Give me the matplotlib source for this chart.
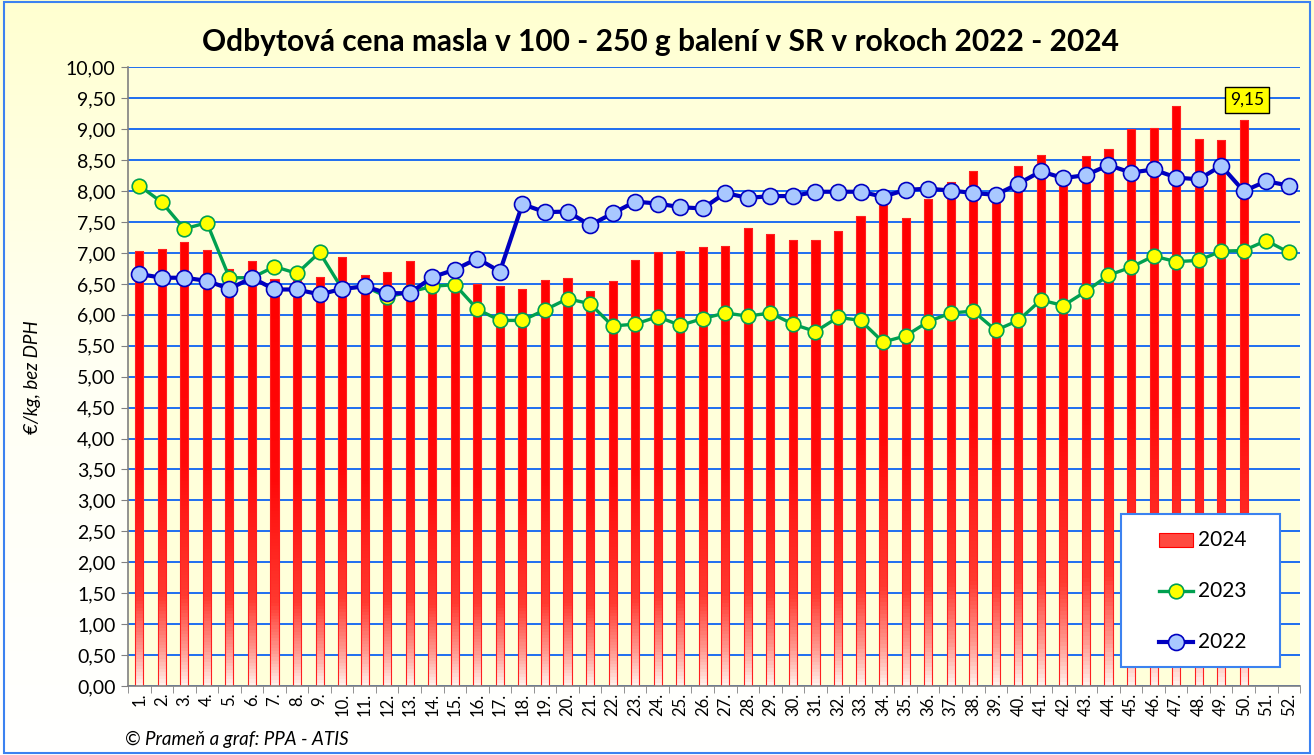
import numpy as np
import matplotlib.pyplot as plt
from matplotlib.colors import LinearSegmentedColormap
from matplotlib.patches import Rectangle
from matplotlib.lines import Line2D

plt.rcParams['font.family'] = ['Lato', 'DejaVu Sans']

weeks = [f"{i}." for i in range(1, 53)]

# 2024 - bars (weeks 1-50)
price_2024 = [7.04, 7.06, 7.17, 7.05, 6.74, 6.87, 6.58, 6.60, 6.61, 6.93,
              6.64, 6.70, 6.87, 6.45, 6.52, 6.50, 6.47, 6.42, 6.56, 6.60,
              6.39, 6.54, 6.89, 7.01, 7.03, 7.09, 7.12, 7.41, 7.31, 7.21,
              7.21, 7.36, 7.59, 7.86, 7.56, 7.88, 8.15, 8.33, 7.90, 8.40,
              8.59, 8.20, 8.57, 8.68, 9.01, 9.02, 9.38, 8.84, 8.83, 9.15]

price_2023 = [8.09, 7.82, 7.39, 7.49, 6.60, 6.60, 6.78, 6.67, 7.01, 6.42,
              6.46, 6.29, 6.37, 6.46, 6.49, 6.09, 5.91, 5.91, 6.08, 6.26,
              6.18, 5.82, 5.85, 5.97, 5.83, 5.94, 6.03, 5.98, 6.03, 5.85,
              5.73, 5.96, 5.91, 5.56, 5.66, 5.89, 6.03, 6.06, 5.75, 5.91,
              6.24, 6.15, 6.38, 6.64, 6.77, 6.95, 6.86, 6.88, 7.03, 7.04,
              7.20, 7.01]

price_2022 = [6.66, 6.60, 6.60, 6.55, 6.42, 6.60, 6.41, 6.41, 6.33, 6.42,
              6.46, 6.35, 6.35, 6.61, 6.73, 6.91, 6.70, 7.79, 7.66, 7.67,
              7.45, 7.64, 7.83, 7.80, 7.74, 7.72, 7.97, 7.89, 7.92, 7.92,
              7.99, 7.99, 7.99, 7.91, 8.02, 8.04, 8.01, 7.97, 7.94, 8.12,
              8.32, 8.21, 8.26, 8.42, 8.30, 8.35, 8.22, 8.19, 8.41, 8.00,
              8.16, 8.09]

fig = plt.figure(figsize=(13.14, 7.55), dpi=100)

# figure background gradient (yellow at top to white at bottom)
bg = fig.add_axes([0, 0, 1, 1], zorder=-10)
bg_cmap = LinearSegmentedColormap.from_list('bg', ['#FFFFFF', '#FFFFF4', '#FFFFD0'])
bg.imshow(np.linspace(0, 1, 256).reshape(-1, 1), cmap=bg_cmap, aspect='auto',
          origin='lower', extent=[0, 1, 0, 1])
bg.set_xlim(0, 1)
bg.set_ylim(0, 1)
bg.axis('off')
bg.add_patch(Rectangle((0.003, 0.003), 0.994, 0.994, fill=False, ec='#3C82F0', lw=1.5))

ax = fig.add_axes([0.0974, 0.0914, 0.892, 0.8193])
ax.set_facecolor('#FFFFDA')
x = np.arange(len(weeks))

ax.set_xlim(-0.5, len(weeks) - 0.5)
ax.set_ylim(0, 10)
ax.set_yticks(np.arange(0, 10.01, 0.5))
ax.set_yticklabels([f"{v:.2f}".replace('.', ',') for v in np.arange(0, 10.01, 0.5)], fontsize=14)
ax.yaxis.grid(True, color='#1E6EF0', lw=1.4)
ax.set_axisbelow(True)

# bars with vertical gradient
bar_cmap = LinearSegmentedColormap.from_list(
    'bar', [(0, '#FFF0EA'), (0.08, '#FF9A90'), (0.2, '#FF3A30'), (0.5, '#FF0A0A'), (1, '#FF0000')])
bars = ax.bar(x[:len(price_2024)], price_2024, width=0.36, color='none',
              edgecolor='#FF2020', lw=0.8, zorder=2)
for b in bars:
    bx, by = b.get_x(), b.get_y()
    im = ax.imshow(np.linspace(0, 1, 128).reshape(-1, 1), cmap=bar_cmap, aspect='auto',
                   origin='lower', extent=[bx, bx + b.get_width(), by, by + b.get_height()],
                   zorder=1.9)
    im.set_clip_path(b)
ax.set_xlim(-0.5, len(weeks) - 0.5)
ax.set_ylim(0, 10)

ax.plot(x, price_2023, color='#00A050', lw=2.4, marker='o', ms=10.5,
        mfc='#FFFF00', mec='#00A050', mew=1.2, zorder=3)
ax.plot(x, price_2022, color='#0000C0', lw=3.0, marker='o', ms=11.5,
        mfc='#A9C8FF', mec='#0000C0', mew=1.2, zorder=4)

# x ticks: labels at centres, tick marks between categories
ax.set_xticks(x)
ax.set_xticklabels(weeks, rotation=90, fontsize=12)
ax.tick_params(axis='x', which='major', length=0, pad=5)
ax.set_xticks(np.arange(-0.5, len(weeks), 1), minor=True)
ax.tick_params(axis='x', which='minor', length=5, color='#808080')
ax.tick_params(axis='y', length=5, color='#808080', pad=4)
for s in ['top', 'right']:
    ax.spines[s].set_visible(False)
for s in ['left', 'bottom']:
    ax.spines[s].set_color('#808080')
    ax.spines[s].set_linewidth(1.2)

# max label
ax.annotate("9,15", xy=(49, price_2024[49]), xytext=(2.5, 14.5), textcoords='offset points',
            ha='center', va='center', fontsize=12.5,
            bbox=dict(boxstyle='square,pad=0.3', fc='#FFFF00', ec='black', lw=1))

# legend
ax.add_patch(Rectangle((0.847, 0.031), 0.136, 0.247, transform=ax.transAxes,
                       fc='white', ec='#3C82F0', lw=1.5, zorder=5))
lx0, lx1, ltx = 0.880, 0.909, 0.913
ly = [0.236, 0.154, 0.071]
ax.add_patch(Rectangle((lx0, ly[0] - 0.012), lx1 - lx0, 0.024, transform=ax.transAxes,
                       fc='#FF4A40', ec='#FF0000', lw=0.8, zorder=6))
ax.add_line(Line2D([lx0, lx1], [ly[1], ly[1]], transform=ax.transAxes, color='#00A050',
                   lw=2.4, zorder=6))
ax.add_line(Line2D([(lx0 + lx1) / 2], [ly[1]], transform=ax.transAxes, marker='o', ms=10.5,
                   mfc='#FFFF00', mec='#00A050', mew=1.2, zorder=7))
ax.add_line(Line2D([lx0, lx1], [ly[2], ly[2]], transform=ax.transAxes, color='#0000C0',
                   lw=3.0, zorder=6))
ax.add_line(Line2D([(lx0 + lx1) / 2], [ly[2]], transform=ax.transAxes, marker='o', ms=11.5,
                   mfc='#A9C8FF', mec='#0000C0', mew=1.2, zorder=7))
for yy, lab in zip(ly, ['2024', '2023', '2022']):
    ax.text(ltx, yy, lab, transform=ax.transAxes, va='center', ha='left', fontsize=15, zorder=7)

fig.text(0.503, 0.945, "Odbytová cena masla v 100 - 250 g balení v SR v rokoch 2022 - 2024",
         ha='center', va='center', fontsize=21.5, fontweight='bold')
fig.text(0.025, 0.50, "€/kg, bez DPH", rotation=90, ha='center', va='center',
         fontsize=13.5, style='italic')
fig.text(0.095, 0.02, "© Prameň a graf: PPA - ATIS", ha='left', va='center',
         fontsize=13.5, style='italic')

fig.savefig('out.png', dpi=100)
